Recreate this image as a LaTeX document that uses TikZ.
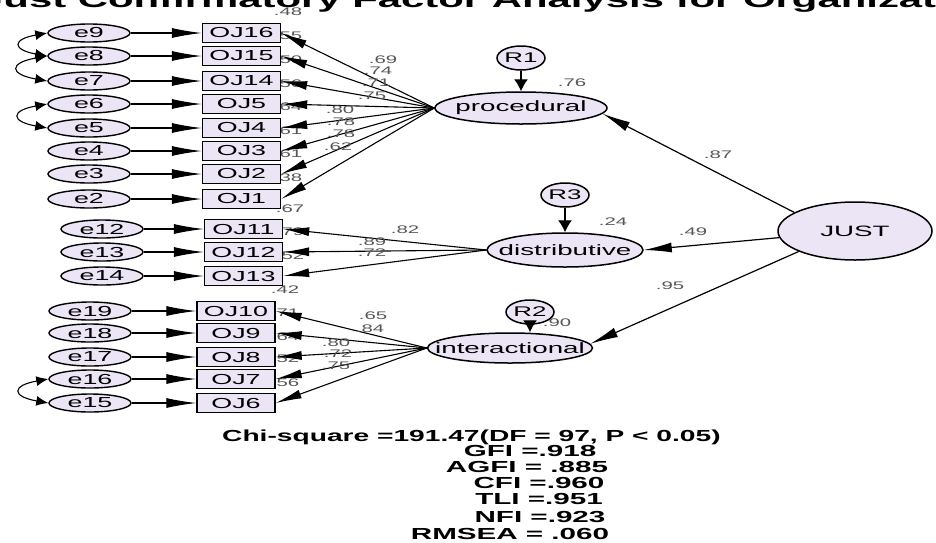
\documentclass[tikz,border=0pt]{standalone}
\usepackage{fontspec}
\setmainfont{Liberation Sans}
\usepackage{graphicx}
\usetikzlibrary{arrows.meta,shapes.geometric}
\definecolor{lav}{RGB}{236,229,246}
\definecolor{numgray}{RGB}{85,85,85}
\newcommand{\sx}[1]{\scalebox{1.85}[1]{#1}}
\newcommand{\ctext}[1]{\makebox[0pt][c]{\scalebox{1.85}[1]{#1}}}
\begin{document}
\begin{tikzpicture}[x=1pt,y=-1pt,
  errnode/.style={ellipse, draw, line width=1.4pt, fill=lav, minimum width=82pt, minimum height=18pt, inner sep=0pt, font=\fontsize{14.5}{14.5}\selectfont},
  obsbox/.style={rectangle, draw, line width=1.4pt, fill=lav, minimum width=78pt, minimum height=19pt, inner sep=0pt, font=\fontsize{14.5}{14.5}\selectfont},
  latent/.style={ellipse, draw, line width=1.5pt, fill=lav, inner sep=0pt, font=\fontsize{15}{15}\selectfont},
  resid/.style={ellipse, draw, line width=1.5pt, fill=lav, minimum width=48pt, minimum height=24pt, inner sep=0pt, font=\fontsize{14}{14}\selectfont},
  num/.style={text=numgray, font=\fontsize{11}{11}\selectfont, inner sep=0pt},
  stat/.style={font=\bfseries\fontsize{16}{16}\selectfont, inner sep=0pt},
  loading/.style={line width=1.1pt, -{Latex[length=26pt,width=9pt]}},
  errarrow/.style={line width=1.1pt, -{Latex[length=30pt,width=10pt]}},
  structarrow/.style={line width=1.2pt, -{Latex[length=28pt,width=10pt]}},
  residarrow/.style={line width=1.2pt, -{Latex[length=12pt,width=14pt]}},
  covar/.style={line width=1.1pt, {Latex[length=12pt,width=10pt]}-{Latex[length=12pt,width=10pt]}}
]
\useasboundingbox (0,0) rectangle (936,542);
\clip (0,0) rectangle (936,542);

% title (cut off at the top)
\node[anchor=base west, inner sep=0pt, font=\bfseries\fontsize{23}{23}\selectfont] (title) at (-20,7)
  {\scalebox{1.82}[1]{Just Confirmatory Factor Analysis for Organization}};

% R-square labels (partly hidden behind boxes and arrowheads)
\foreach \n/\x/\y/\v in {r16/288/12/.48, r15/288/36/.55, r14/288/60/.50, r5/288/84/.56,
  r4/288/107/.64, r3/288/131/.61, r2/288/154/.61, r1/288/178/.38,
  r11/290/209/.67, r12/290/232/.79, r13/290/256/.52,
  r10/285/290/.42, r9/285/313/.71, r8/285/337/.64, r7/285/359/.52, r6/285/383/.56}
  {\node[num] (\n) at (\x,\y) {\sx{\v}};}

% observed variables and their errors
\foreach \b/\e/\y in {OJ16/e9/33, OJ15/e8/56, OJ14/e7/81, OJ5/e6/104, OJ4/e5/128, OJ3/e4/151, OJ2/e3/174, OJ1/e2/199}
  {\node[obsbox] (\b) at (241.5,\y) {\ctext{\b}};
   \node[errnode] (\e) at (89,\y) {\ctext{\e}};
   \draw[errarrow] (\e) -- (\b);}
\foreach \b/\e/\y in {OJ11/e12/229, OJ12/e13/252, OJ13/e14/276}
  {\node[obsbox] (\b) at (243.5,\y) {\ctext{\b}};
   \node[errnode] (\e) at (102,\y) {\ctext{\e}};
   \draw[errarrow] (\e) -- (\b);}
\foreach \b/\e/\y in {OJ10/e19/311, OJ9/e18/333, OJ8/e17/357, OJ7/e16/379, OJ6/e15/403}
  {\node[obsbox] (\b) at (236,\y) {\ctext{\b}};
   \node[errnode] (\e) at (90,\y) {\ctext{\e}};
   \draw[errarrow] (\e) -- (\b);}

% covariances between errors
\draw[covar] (e9.west) to[out=190,in=170,looseness=4] (e8.west);
\draw[covar] (e8.west) to[out=190,in=170,looseness=4] (e7.west);
\draw[covar] (e6.west) to[out=190,in=170,looseness=4] (e5.west);
\draw[covar] (e16.west) to[out=190,in=170,looseness=4] (e15.west);

% latent variables
\node[latent, minimum width=172pt, minimum height=32pt] (procedural) at (521,108) {\ctext{procedural}};
\node[latent, minimum width=156pt, minimum height=34pt] (distributive) at (565,250) {\ctext{distributive}};
\node[latent, minimum width=165pt, minimum height=30pt] (interactional) at (510,348) {\ctext{interactional}};
\node[latent, minimum width=154pt, minimum height=58pt] (JUST) at (855,231) {\ctext{JUST}};

% residuals
\node[resid] (R1) at (521,58) {\ctext{R1}};
\node[resid] (R3) at (565,195) {\ctext{R3}};
\node[resid] (R2) at (530,312) {\ctext{R2}};
\draw[residarrow] (R1.south) -- (procedural.north);
\draw[residarrow] (R3.south) -- (distributive.north);
\draw[residarrow] (R2.south) -- (R2.south |- interactional.north);

% loadings
\foreach \b in {OJ16,OJ15,OJ14,OJ5,OJ4,OJ3,OJ2,OJ1}
  {\draw[loading] (procedural.west) -- (\b.east);}
\foreach \b in {OJ11,OJ12,OJ13}
  {\draw[loading] (distributive.west) -- (\b.east);}
\foreach \b in {OJ10,OJ9,OJ8,OJ7,OJ6}
  {\draw[loading] (interactional.west) -- (\b.east);}

% structural paths
\draw[structarrow] (JUST.163) -- (procedural.-4);
\draw[structarrow] (JUST.185) -- (distributive.east);
\draw[structarrow] (JUST.200) -- (interactional.3);

% loading labels
\foreach \n/\x/\y/\v in {l16/383/60/.69, l15/378/71/.74, l14/376/83/.71, l5/372/96/.75,
  l4/340/110/.80, l3/341/122/.78, l2/341/134/.78, l1/338/147/.62,
  l11/405/230/.82, l12/372/242/.89, l13/372/253/.72,
  l10/373/316/.65, l9/370/329/.84, l8/336/343/.80, l7/338/354/.72, l6/336/366/.75,
  sp/718/155/.87, sd/693/232/.49, si/670/286/.95,
  rp/572/83/.76, rd/613/222/.24, ri/557/323/.90}
  {\node[num] (\n) at (\x,\y) {\sx{\v}};}

% fit statistics
\node[stat, anchor=west] (chi) at (222,437) {\scalebox{1.76}[1]{Chi-square =191.47(DF = 97, P < 0.05)}};
\node[stat] (gfi) at (530,451) {\sx{GFI =.918}};
\node[stat] (agfi) at (527,467) {\sx{AGFI = .885}};
\node[stat] (cfi) at (539,483) {\sx{CFI =.960}};
\node[stat] (tli) at (539,499) {\sx{TLI =.951}};
\node[stat] (nfi) at (540,517) {\sx{NFI =.923}};
\node[stat] (rmsea) at (510,534) {\sx{RMSEA = .060}};
\end{tikzpicture}
\end{document}
